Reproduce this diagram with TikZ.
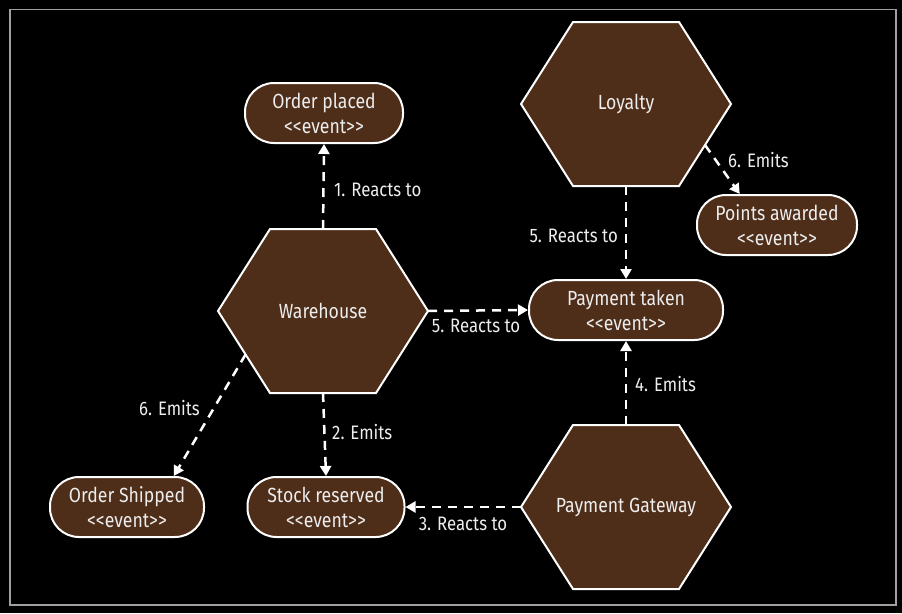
\documentclass[tikz,border=0pt]{standalone}
\usepackage{fontspec}
\setmainfont[FakeStretch=0.86]{Fira Sans}
\usetikzlibrary{arrows.meta,calc}
\definecolor{hexbrown}{HTML}{4E2D19}
\definecolor{txtgray}{HTML}{EDEDED}
\definecolor{framegray}{HTML}{A0A0A0}
\newcommand\evtag{<\kern0pt<event>\kern0pt>}
\newcommand\hexshape[4]{%
  \coordinate (#1) at (#2,#3);
  \coordinate (#1-w) at ($(#1)+(-105,0)$);
  \coordinate (#1-e) at ($(#1)+(105,0)$);
  \coordinate (#1-nw) at ($(#1)+(-53,-82)$);
  \coordinate (#1-ne) at ($(#1)+(53,-82)$);
  \coordinate (#1-sw) at ($(#1)+(-53,82)$);
  \coordinate (#1-se) at ($(#1)+(53,82)$);
  \coordinate (#1-n) at ($(#1)+(0,-82)$);
  \coordinate (#1-s) at ($(#1)+(0,82)$);
  \draw[hexstyle] (#1-w) -- (#1-nw) -- (#1-ne) -- (#1-e) -- (#1-se) -- (#1-sw) -- cycle;
  \node[hextext] (#1-label) at (#1) {#4};
}
\begin{document}
\begin{tikzpicture}[x=1pt,y=-1pt,
  hexstyle/.style={draw=white, line width=2pt, fill=hexbrown, line join=miter},
  hextext/.style={font=\fontsize{20.5}{25}\selectfont, text=txtgray},
  evt/.style={draw=white, line width=2pt, fill=hexbrown, rounded corners=29pt,
    minimum height=60pt, align=center, inner sep=0pt, text=txtgray,
    font=\fontsize{20.5}{25}\selectfont},
  conn/.style={draw=white, line width=2.5pt, dash pattern=on 9pt off 7pt,
    -{Triangle[length=10pt,width=11pt]}},
  lbl/.style={font=\fontsize{19.5}{22}\selectfont, text=txtgray, inner sep=1pt}]
\fill[black] (0,0) rectangle (902,613);
\useasboundingbox (0,0) rectangle (902,613);
\draw[framegray, line width=1.2pt] (10,9.5) rectangle (896,605);

\hexshape{W}{323}{311}{Warehouse}
\hexshape{L}{626}{104}{Loyalty}
\hexshape{PG}{626}{507}{Payment Gateway}

\node[evt, minimum width=158pt] (OP) at (324,113) {Order placed\\\evtag};
\node[evt, minimum width=160pt] (PA) at (777,225) {Points awarded\\\evtag};
\node[evt, minimum width=194pt] (PT) at (626,310) {Payment taken\\\evtag};
\node[evt, minimum width=154pt] (OS) at (127,507) {Order Shipped\\\evtag};
\node[evt, minimum width=157pt] (SR) at (326,507) {Stock reserved\\\evtag};

\coordinate (L-edge) at ($(L-e)!0.5!(L-se)$);
\coordinate (W-edge) at ($(W-w)!0.53!(W-sw)$);
\coordinate (PA-in) at ($(PA.north west)!0.27!(PA.north east)$);
\coordinate (OS-in) at ($(OS.north west)!0.8!(OS.north east)$);

\draw[conn] (W-n) -- (OP.south);
\draw[conn] (W-s) -- (SR.north);
\draw[conn] (PG-w) -- (SR.east);
\draw[conn] (PG-n) -- (PT.south);
\draw[conn] (W-e) -- (PT.west);
\draw[conn] (L-s) -- (PT.north);
\draw[conn] (L-edge) -- (PA-in);
\draw[conn] (W-edge) -- (OS-in);

\node[lbl, anchor=west] (l1) at (333,190) {1. Reacts to};
\node[lbl, anchor=west] (l2) at (331,432) {2. Emits};
\node[lbl] (l3) at (463,524) {3. Reacts to};
\node[lbl, anchor=west] (l4) at (634,384) {4. Emits};
\node[lbl] (l5a) at (476,326) {5. Reacts to};
\node[lbl, anchor=east] (l5b) at (619,236) {5. Reacts to};
\node[lbl, anchor=west] (l6a) at (727,160) {6. Emits};
\node[lbl, anchor=east] (l6b) at (201,408) {6. Emits};
\end{tikzpicture}
\end{document}
